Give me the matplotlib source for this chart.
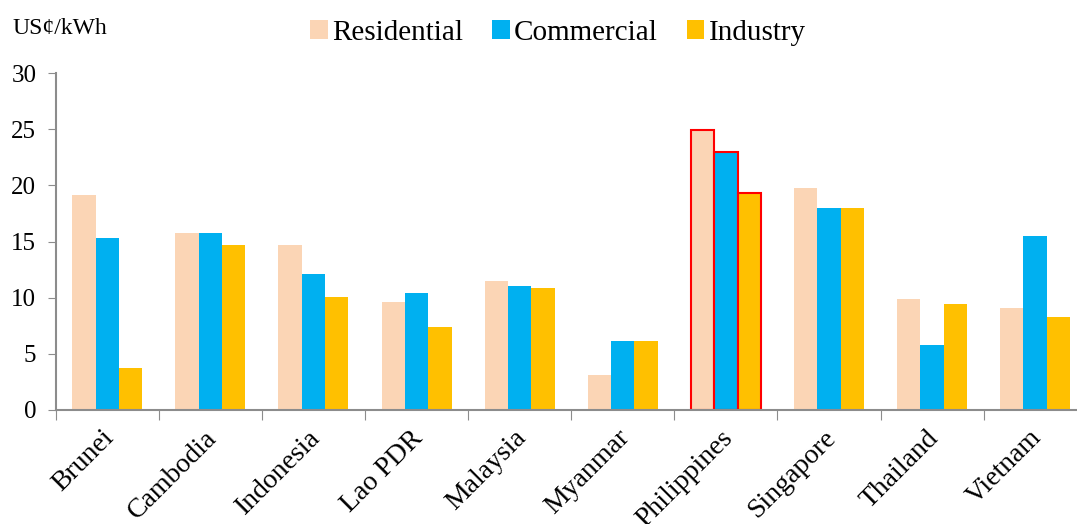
import matplotlib
matplotlib.use("Agg")
import matplotlib.pyplot as plt
import matplotlib.transforms as mtransforms
import numpy as np

countries = ["Brunei", "Cambodia", "Indonesia", "Lao PDR", "Malaysia",
             "Myanmar", "Philippines", "Singapore", "Thailand", "Vietnam"]
residential = [19.1, 15.8, 14.7, 9.6, 11.5, 3.1, 24.9, 19.8, 9.9, 9.1]
commercial = [15.3, 15.8, 12.1, 10.4, 11.0, 6.1, 23.0, 18.0, 5.8, 15.5]
industry = [3.7, 14.7, 10.1, 7.4, 10.9, 6.1, 19.3, 18.0, 9.4, 8.3]
highlight = "Philippines"

series = [("Residential", residential, "#FBD5B5"),
          ("Commercial", commercial, "#00B0F0"),
          ("Industry", industry, "#FFC000")]

plt.rcParams["font.family"] = ["Liberation Serif", "DejaVu Serif"]
axis_grey = "#8C8C8C"

fig = plt.figure(figsize=(10.77, 5.24), dpi=100)
ax = fig.add_axes([55.7 / 1077, 114 / 524, 1031 / 1077, 337 / 524])

x = np.arange(len(countries))
width = 0.226
for i, (name, vals, color) in enumerate(series):
    edges = ["red" if c == highlight else color for c in countries]
    lws = [1.5 if c == highlight else 0 for c in countries]
    ax.bar(x + (i - 1) * width, vals, width, color=color, label=name,
           edgecolor=edges, linewidth=lws)

ax.set_xlim(-0.5, len(countries) - 0.5)
ax.set_ylim(0, 30)
ax.set_yticks(range(0, 31, 5))
ax.tick_params(axis="y", labelsize=18, direction="out", length=6,
               color=axis_grey, pad=8)

# ticks between groups, labels at group centres
ax.set_xticks(np.arange(-0.5, len(countries), 1.0))
ax.set_xticks(x, minor=True)
ax.set_xticklabels([])
ax.set_xticklabels(countries, minor=True, rotation=45, ha="right",
                   rotation_mode="anchor", fontsize=20)
ax.tick_params(axis="x", which="major", length=7, color=axis_grey)
ax.tick_params(axis="x", which="minor", length=0, pad=11)
shift = mtransforms.ScaledTranslation(-6 / 100, 0, fig.dpi_scale_trans)
for label in ax.get_xticklabels(minor=True):
    label.set_transform(label.get_transform() + shift)

for side in ["top", "right"]:
    ax.spines[side].set_visible(False)
for side in ["left", "bottom"]:
    ax.spines[side].set_color(axis_grey)
    ax.spines[side].set_linewidth(1.5)

fig.text(12 / 1077, 1 - 28 / 524, "US¢/kWh", fontsize=17, va="center")
fig.legend(loc="center", bbox_to_anchor=(558 / 1077, 1 - 33 / 524), ncol=3,
           frameon=False, fontsize=21, handlelength=0.6, handleheight=0.6,
           handletextpad=0.15, columnspacing=1.0)

fig.savefig("out.png", dpi=100)
